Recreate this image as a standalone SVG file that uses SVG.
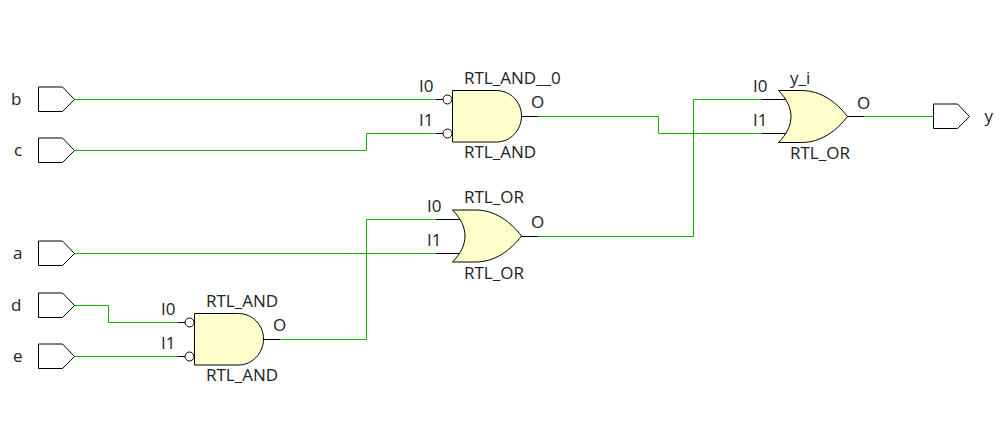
<svg xmlns="http://www.w3.org/2000/svg" width="1008" height="430" viewBox="0 0 1008 430">
<style>
text{font-family:"Open Sans","Noto Sans",sans-serif;font-size:17px;fill:#222}
.g{fill:#ffffcc;stroke:#000;stroke-width:1}
.p{fill:#fff;stroke:#000;stroke-width:1}
.w{fill:none;stroke:#19ae00;stroke-width:1}
.b{fill:none;stroke:#000;stroke-width:1}
</style>
<defs>
<path id="port" class="p" d="M0 -12.500H24L36 0L24 12H0Z"/>
<path id="and" class="g" d="M0 -25.500H44C58 -25.500 69 -14 69 0C69 14 58 26 44 26H0Z"/>
<path id="or" class="g" d="M0 -26H23C43 -26 58 -14 69 0C58 14 43 26 23 26H0C8 18 12.500 9 12.500 0C12.500 -9 8 -18 0 -26Z"/>
<circle id="bub" class="p" r="4.500"/>
</defs>
<g id="connectors">
<path class="w" d="M74.500 99.500H436"/>
<path class="w" d="M74.500 150.500H366.500V133.500H436"/>
<path class="w" d="M74.500 253.500H436"/>
<path class="w" d="M74.500 305.500H108.500V322.500H178"/>
<path class="w" d="M74.500 356.500H178"/>
<path class="w" d="M280 339.500H366.500V219.500H436"/>
<path class="w" d="M538 236.500H693.500V99.500H762"/>
<path class="w" d="M538 116.500H658.500V133.500H762"/>
<path class="w" d="M864 116.500H933.500"/>
<path class="b" d="M436 99.500H443M436 133.500H443M178 322.500H185M178 356.500H185M521 116.500H538M263 339.500H280M847 116.500H864M521 236.500H538"/>
<path class="b" d="M436 219.500H461M436 253.500H461M762 99.500H786M762 133.500H786"/>
</g>
<g id="port-b"><use href="#port" x="38.500" y="99.500"/><text x="11" y="105">b</text></g>
<g id="port-c"><use href="#port" x="38.500" y="150.500"/><text x="14" y="156">c</text></g>
<g id="port-a"><use href="#port" x="38.500" y="253.500"/><text x="13" y="259">a</text></g>
<g id="port-d"><use href="#port" x="38.500" y="305.500"/><text x="11" y="311">d</text></g>
<g id="port-e"><use href="#port" x="38.500" y="356.500"/><text x="13" y="362">e</text></g>
<g id="port-y"><use href="#port" x="933.500" y="116.500"/><text x="984.500" y="122">y</text></g>
<g id="and-0">
<use href="#bub" x="447.500" y="99.500"/><use href="#bub" x="447.500" y="133.500"/>
<use href="#and" x="452.500" y="116"/>
<text x="464" y="84">RTL_AND__0</text><text x="464" y="158">RTL_AND</text>
<text x="419" y="92">I0</text><text x="419" y="126">I1</text><text x="531" y="108">O</text>
</g>
<g id="and-1">
<use href="#bub" x="189.500" y="322.500"/><use href="#bub" x="189.500" y="356.500"/>
<use href="#and" x="194.500" y="339"/>
<text x="206" y="307">RTL_AND</text><text x="206" y="381">RTL_AND</text>
<text x="161" y="315">I0</text><text x="161" y="349">I1</text><text x="273" y="331">O</text>
</g>
<g id="or-0">
<use href="#or" x="452.500" y="236"/>
<text x="464" y="203">RTL_OR</text><text x="464" y="279">RTL_OR</text>
<text x="427" y="212">I0</text><text x="427" y="246">I1</text><text x="531" y="228">O</text>
</g>
<g id="or-y">
<use href="#or" x="778.500" y="116.500"/>
<text x="790" y="84">y_i</text><text x="790" y="159">RTL_OR</text>
<text x="753" y="92">I0</text><text x="753" y="126">I1</text><text x="857" y="109">O</text>
</g>
</svg>
